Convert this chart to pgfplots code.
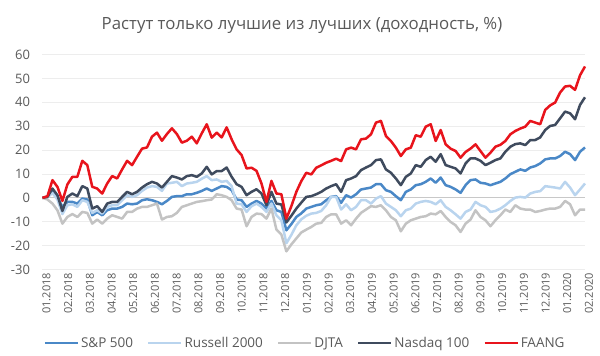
\documentclass[border=0pt]{standalone}
\usepackage{fontspec}
\setmainfont{Open Sans}
\usepackage{pgfplots}
\pgfplotsset{compat=1.18}
\usepackage{pgfplotstable}
\definecolor{cSP}{HTML}{4A88C7}
\definecolor{cRU}{HTML}{B9D4EE}
\definecolor{cDJ}{HTML}{C3C3C3}
\definecolor{cNQ}{HTML}{3F4B5E}
\definecolor{cFA}{HTML}{E8141C}
\definecolor{txt}{HTML}{595959}
\definecolor{gridc}{HTML}{EDEDED}
\definecolor{zeroc}{HTML}{C8C8C8}
\pgfplotstableread{
w sp ru dj nq fa
0 0 0 0 0 0
1 0.3 0.2 -0.7 0.4 0.7
2 3 2 -2.4 3.9 7.4
3 0.4 -0.7 -5.2 1.1 4.6
4 -3.8 -6.8 -10.8 -5.5 -1.3
5 -1.7 -3.1 -8 0.4 5.6
6 -1.7 -2.7 -6.8 1.8 8.8
7 -2.4 -3.8 -8 0.7 8.8
8 -0.3 -1 -5.9 4.9 15.5
9 -0.7 -1.7 -6.3 3.9 13.7
10 -7.3 -6.3 -10.8 -4.5 4.6
11 -5.9 -5.2 -9.1 -3.5 3.9
12 -7.3 -6.6 -10.8 -5.9 1.8
13 -5.2 -3.8 -8.7 -2.4 6
14 -4.5 -3.1 -7.3 -1.7 9.1
15 -4.5 -3.1 -8 -1.7 8.1
16 -3.8 -1 -8.7 0.4 11.9
17 -2.4 1.1 -5.9 2.5 15.5
18 -2.7 0.4 -5.9 1.5 13.7
19 -2.4 1.1 -4.5 2.5 17.2
20 -1 2.9 -3.8 4.3 20.6
21 -0.6 4.3 -3.8 5.7 21.1
22 -1 4.9 -3.1 6.7 25.6
23 -1.7 4.6 -2.4 6 27.3
24 -2.7 2.9 -9.1 4.3 23.9
25 -1.3 6 -8 6.7 26.7
26 0.4 6.3 -7.7 9.1 29.1
27 0.7 6.7 -6.3 8.5 26.7
28 0.7 4.9 -3.8 7.7 23.1
29 1.5 6 -3.1 9.1 23.9
30 1.5 6.3 -2.4 9.5 25.6
31 2.1 6.7 -1.7 8.8 22.8
32 2.9 8 -1.4 10.2 27
33 3.9 9.1 -1 13 30.8
34 2.9 7.4 -0.7 9.8 25.2
35 3.9 7.7 1.5 11.2 27.3
36 4.9 6.7 1.1 11.2 25.3
37 4.6 7.1 0.4 12.7 29.5
38 3.2 4.9 -1 8.8 24.5
39 -0.7 -2.4 -4.5 5.7 20.3
40 -1 -2.7 -4.9 4.6 17.9
41 -3.8 -5.9 -11.9 1.1 12.3
42 -2.4 -3.5 -8 2.5 12.6
43 -1.3 -2.4 -6.6 3.6 11.3
44 -2.4 -3.8 -6.8 1.8 6
45 -4.5 -5.9 -8.7 -3.1 -1.7
46 -1.3 -2.4 -4.5 2.5 7.1
47 -5.2 -7.3 -13.3 -2.4 1.8
48 -5.9 -9.4 -15.4 -2.8 1.5
49 -13.6 -19 -22.4 -10.3 -8.7
50 -11 -15.5 -19.5 -7.5 -3.5
51 -8 -11.5 -17 -4.5 2.5
52 -6.5 -9 -14.5 -2 7
53 -4.5 -7.5 -13.3 0.4 10.5
54 -3.8 -6.6 -12.2 0.7 9.8
55 -3.1 -6.3 -10.8 1.5 12.6
56 -2.7 -5.5 -10.5 2.5 13.6
57 -1 -3.1 -8 3.9 14.7
58 0.4 0.4 -6.9 4.9 15.5
59 0.7 0.4 -6.9 5.7 16.4
60 -2.1 -4.9 -10.8 2.5 15.4
61 1.1 -2.7 -9.4 7.4 20.3
62 0.1 -5.2 -11.5 8.1 21
63 1.5 -3.8 -8.7 9.1 20.3
64 3.5 -1 -6.3 11.6 24.5
65 3.9 -1 -4.9 12.7 24.8
66 4.3 -2.4 -3.5 13.7 26.6
67 5.7 -0.3 -3.8 15.8 31.5
68 5.7 0.7 -3.1 16.1 32.2
69 3.2 -2.4 -5.2 11.9 25.9
70 2.5 -3.8 -8 10.5 23.8
71 0.7 -5.2 -9.4 8.1 21
72 -1 -7.7 -14 5.3 17.5
73 2.5 -5.2 -10.8 8.8 20.3
74 3.5 -4.5 -9.4 10.2 21
75 5.3 -2.4 -8.7 13.7 26.2
76 5.7 -1.7 -8 13 25.6
77 6.7 -1.3 -7.7 15.8 29.8
78 8.1 -1.7 -6.6 17.2 30.8
79 6.3 -2.7 -6.9 15.1 23.8
80 8.5 -1 -5.5 18.3 28.4
81 5.3 -3.8 -8 13.7 22.4
82 4.6 -5.2 -10.1 13 20.6
83 3.5 -6.9 -11.5 12.3 19.6
84 2.1 -8.7 -14.3 10.2 16.8
85 5.3 -5.9 -10.8 14.4 19.2
86 7.4 -4.9 -9.1 16.5 20.6
87 7.7 -1.7 -5.2 16.5 22.4
88 6.3 -3.1 -8 15.5 19.6
89 6 -3.8 -9.4 13.7 16.8
90 5.3 -5.9 -11.9 14.7 18.9
91 6 -5.5 -9.4 15.8 21.4
92 6.7 -4.5 -7.3 16.5 22.2
93 8.1 -3.1 -4.9 19.3 23.8
94 9.9 -1.3 -5.9 21.4 26.6
95 10.9 0.1 -3.1 22.5 28
96 11.9 0.4 -4.5 22.8 29
97 11.3 0.1 -4.9 22.1 29.8
98 12.7 1.8 -4.9 24.2 32.2
99 13.3 2.5 -5.9 24.2 31.5
100 14.4 2.8 -5.5 25.3 30.8
101 16.1 4.9 -4.9 28.4 36.8
102 16.5 4.6 -4.5 30.1 38.7
103 16.5 4.3 -4.5 30.5 39.9
104 17.5 3.9 -3.8 33.3 44.1
105 19.3 6.7 -1.3 36.1 46.6
106 18.3 4.3 -2.7 35.4 46.9
107 15.8 1.1 -7.3 32.9 45.2
108 19.3 3.5 -4.9 38.9 51.3
109 21.1 6 -4.9 42.1 55
}\data
\begin{document}
\begin{tikzpicture}[x=1pt,y=1pt]
\useasboundingbox (0,0) rectangle (600,356);
\node[font=\fontsize{16.8}{19}\selectfont, text=txt] at (302,331) {Растут только лучшие из лучших (доходность, \%)};
\begin{axis}[
  at={(42.5pt,86.5pt)}, anchor=south west,
  scale only axis, width=542.5pt, height=215pt,
  xmin=0, xmax=109, ymin=-30, ymax=60,
  clip=false,
  ytick={-30,-20,...,60},
  xtick={0,4.36,8.72,13.08,17.44,21.8,26.16,30.52,34.88,39.24,43.6,47.96,52.32,56.68,61.04,65.4,69.76,74.12,78.48,82.84,87.2,91.56,95.92,100.28,104.64,109},
  xticklabels={01.2018,02.2018,03.2018,04.2018,05.2018,06.2018,07.2018,08.2018,09.2018,10.2018,11.2018,12.2018,01.2019,02.2019,03.2019,04.2019,05.2019,06.2019,07.2019,08.2019,09.2019,10.2019,11.2019,12.2019,01.2020,02.2020},
  axis line style={draw=none}, tick style={draw=none},
  ymajorgrids, major grid style={color=gridc, line width=0.8pt},
  extra y ticks={0}, extra y tick labels={},
  extra y tick style={grid=major, major grid style={color=zeroc, line width=0.9pt}},
  /pgf/number format/assume math mode=true,
  yticklabel style={font=\fontsize{13}{15}\selectfont, text=txt, xshift=-9pt},
  xticklabel style={font=\fontsize{11}{12}\selectfont, text=txt, rotate=90, anchor=east, yshift=-4pt},
  legend columns=5,
  legend style={at={(0.484,-0.342)}, anchor=center, draw=none, fill=none,
    font=\fontsize{13.5}{15}\selectfont, text=txt,
    /tikz/every even column/.append style={column sep=12pt},
    inner sep=0pt},
  legend image code/.code={\draw[#1] (0pt,0pt) -- (33pt,0pt);},
  every axis plot/.append style={line width=2.5pt, line join=round},
]
\addplot[cSP] table[x=w,y=sp]{\data};
\addlegendentry{S\&P 500}
\addplot[cRU] table[x=w,y=ru]{\data};
\addlegendentry{Russell 2000}
\addplot[cDJ] table[x=w,y=dj]{\data};
\addlegendentry{DJTA}
\addplot[cNQ] table[x=w,y=nq]{\data};
\addlegendentry{Nasdaq 100}
\addplot[cFA] table[x=w,y=fa]{\data};
\addlegendentry{FAANG}
\end{axis}
\end{tikzpicture}
\end{document}
